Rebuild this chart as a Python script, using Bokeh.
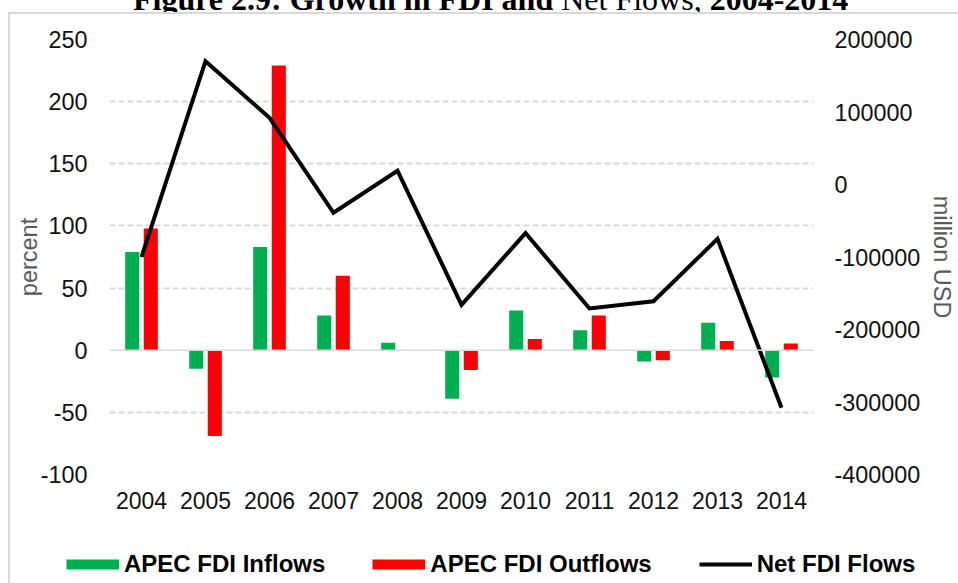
from bokeh.plotting import figure
from bokeh.models import (FactorRange, Range1d, LinearAxis, FixedTicker, Span,
                          Legend, LegendItem, ColumnDataSource, Div)
from bokeh.layouts import column, row
from bokeh.transform import dodge
from bokeh.embed import file_html
from bokeh.resources import INLINE

# ---------------- data ----------------
years = ["2004", "2005", "2006", "2007", "2008", "2009", "2010", "2011", "2012", "2013", "2014"]
inflows = [79, -15, 83, 28, 6, -39, 32, 16, -9, 22, -22]          # percent
outflows = [98, -69, 229, 60, 0, -16, 9, 28, -8, 7.5, 5.5]        # percent
net_flows = [-100000, 170000, 92000, -39000, 19000, -166000, -67000,
             -171000, -161000, -75000, -308000]                     # million USD

left_ticks = [-100, -50, 0, 50, 100, 150, 200, 250]
left_labels = ["-100", "-50", "0", "50", "100", "150", "200", "250"]
right_ticks = [-400000, -300000, -200000, -100000, 0, 100000, 200000]
right_labels = ["-400000", "-300000", "-200000", "-100000", "0", "100000", "200000"]

series_names = ["APEC FDI Inflows", "APEC FDI Outflows", "Net FDI Flows"]
title_bold_1 = "Figure 2.9: Growth in FDI and"
title_plain = "Net Flows,"
title_bold_2 = "2004-2014"
left_title = "percent"
right_title = "million USD"

GREEN = "#00B050"
RED = "#FF0000"
GRID = "#d9d9d9"
FONT = "Liberation Sans"

src = ColumnDataSource(dict(year=years, inflow=inflows, outflow=outflows, net=net_flows))

# ---------------- main figure ----------------
p = figure(width=948, height=531, x_range=FactorRange(*years),
           y_range=Range1d(left_ticks[0], left_ticks[-1]),
           output_backend="svg", toolbar_location=None,
           min_border_left=99, min_border_right=140,
           min_border_top=25, min_border_bottom=71)
p.extra_y_ranges = {"net": Range1d(right_ticks[0], right_ticks[-1])}
p.x_range.range_padding = 0
p.outline_line_color = None
p.background_fill_color = "white"
p.border_fill_color = "white"

# grid
p.xgrid.visible = False
p.ygrid.ticker = FixedTicker(ticks=[t for t in left_ticks if t != 0])
p.ygrid.grid_line_color = GRID
p.ygrid.grid_line_width = 2
p.ygrid.grid_line_dash = "6 3"
p.add_layout(Span(location=0, dimension="width", line_color=GRID, line_width=1.5))

# bars
p.vbar(x=dodge("year", -0.145, range=p.x_range), top="inflow", width=0.22,
       source=src, fill_color=GREEN, line_color=None)
p.vbar(x=dodge("year", 0.145, range=p.x_range), top="outflow", width=0.22,
       source=src, fill_color=RED, line_color=None)

# net flows line
p.line(x="year", y="net", source=src, y_range_name="net",
       line_color="black", line_width=4, line_join="miter")

# axes styling
def style_axis(ax, size="23.4px"):
    ax.axis_line_color = None
    ax.major_tick_line_color = None
    ax.minor_tick_line_color = None
    ax.major_tick_out = 0
    ax.major_tick_in = 0
    ax.minor_tick_out = 0
    ax.minor_tick_in = 0
    ax.major_label_text_font = FONT
    ax.major_label_text_font_size = size
    ax.major_label_text_color = "#111111"
    ax.axis_label_text_font = FONT
    ax.axis_label_text_font_size = "23.5px"
    ax.axis_label_text_font_style = "normal"
    ax.axis_label_text_color = "#595959"

xa = p.xaxis[0]
style_axis(xa, "23px")
xa.major_label_standoff = 17

ya = p.yaxis[0]
style_axis(ya)
ya.ticker = FixedTicker(ticks=left_ticks)
ya.major_label_overrides = dict(zip(left_ticks, left_labels))
ya.major_label_standoff = 22
ya.axis_label = left_title
ya.axis_label_standoff = -4

ra = LinearAxis(y_range_name="net")
style_axis(ra)
ra.ticker = FixedTicker(ticks=right_ticks)
ra.major_label_overrides = dict(zip(right_ticks, right_labels))
ra.major_label_standoff = 21
ra.axis_label = right_title
ra.axis_label_standoff = 6
p.add_layout(ra, "right")

# ---------------- legend strip ----------------
lg = figure(width=948, height=38, x_range=Range1d(0, 1), y_range=Range1d(0, 1),
            output_backend="svg", toolbar_location=None,
            x_axis_location=None, y_axis_location=None,
            min_border_left=0, min_border_right=0, min_border_top=0, min_border_bottom=0)
lg.grid.visible = False
lg.outline_line_color = None
lg.background_fill_color = "white"
lg.border_fill_color = "white"
# key renderers hold points outside the visible range, so only their legend keys show
off_x = [5, 6]
off_y = [5, 5]
key_in = lg.line(x=off_x, y=off_y, line_color=GREEN, line_width=10)
key_out = lg.line(x=off_x, y=off_y, line_color=RED, line_width=10)
key_net = lg.line(x=off_x, y=off_y, line_color="black", line_width=4)
legend = Legend(items=[LegendItem(label=series_names[0], renderers=[key_in]),
                       LegendItem(label=series_names[1], renderers=[key_out]),
                       LegendItem(label=series_names[2], renderers=[key_net])],
                orientation="horizontal", location=(56, 5),
                glyph_width=53, glyph_height=26, label_standoff=5, spacing=47,
                padding=0, margin=0, border_line_color=None,
                background_fill_alpha=0,
                label_text_font=FONT, label_text_font_size="24px",
                label_text_font_style="bold", label_text_color="black")
lg.add_layout(legend, "center")

# ---------------- page layout ----------------
title_html = ('<div style="position:relative;top:-17px;height:29px;overflow:hidden;'
              'white-space:nowrap;font-family:\'Liberation Serif\';font-size:32px;'
              'line-height:32px;color:#000;padding-left:133px;">'
              '<b>' + title_bold_1 + '</b> ' + title_plain + ' <b>' + title_bold_2 + '</b></div>')
title_div = Div(text=title_html, width=958, height=12, margin=0,
                styles={"overflow": "visible"})
spacer = Div(text="", width=8, height=571, margin=0)
top_border = Div(text="", width=950, height=2, margin=0,
                 styles={"background-color": GRID})
left_border = Div(text="", width=2, height=569, margin=0,
                  styles={"background-color": GRID})

layout = column(title_div,
                row(spacer,
                    column(top_border,
                           row(left_border,
                               column(row(p, spacing=0), row(lg, spacing=0), spacing=0),
                               spacing=0),
                           spacing=0),
                    spacing=0),
                spacing=0)

with open("out.html", "w") as f:
    f.write(file_html(layout, INLINE))
